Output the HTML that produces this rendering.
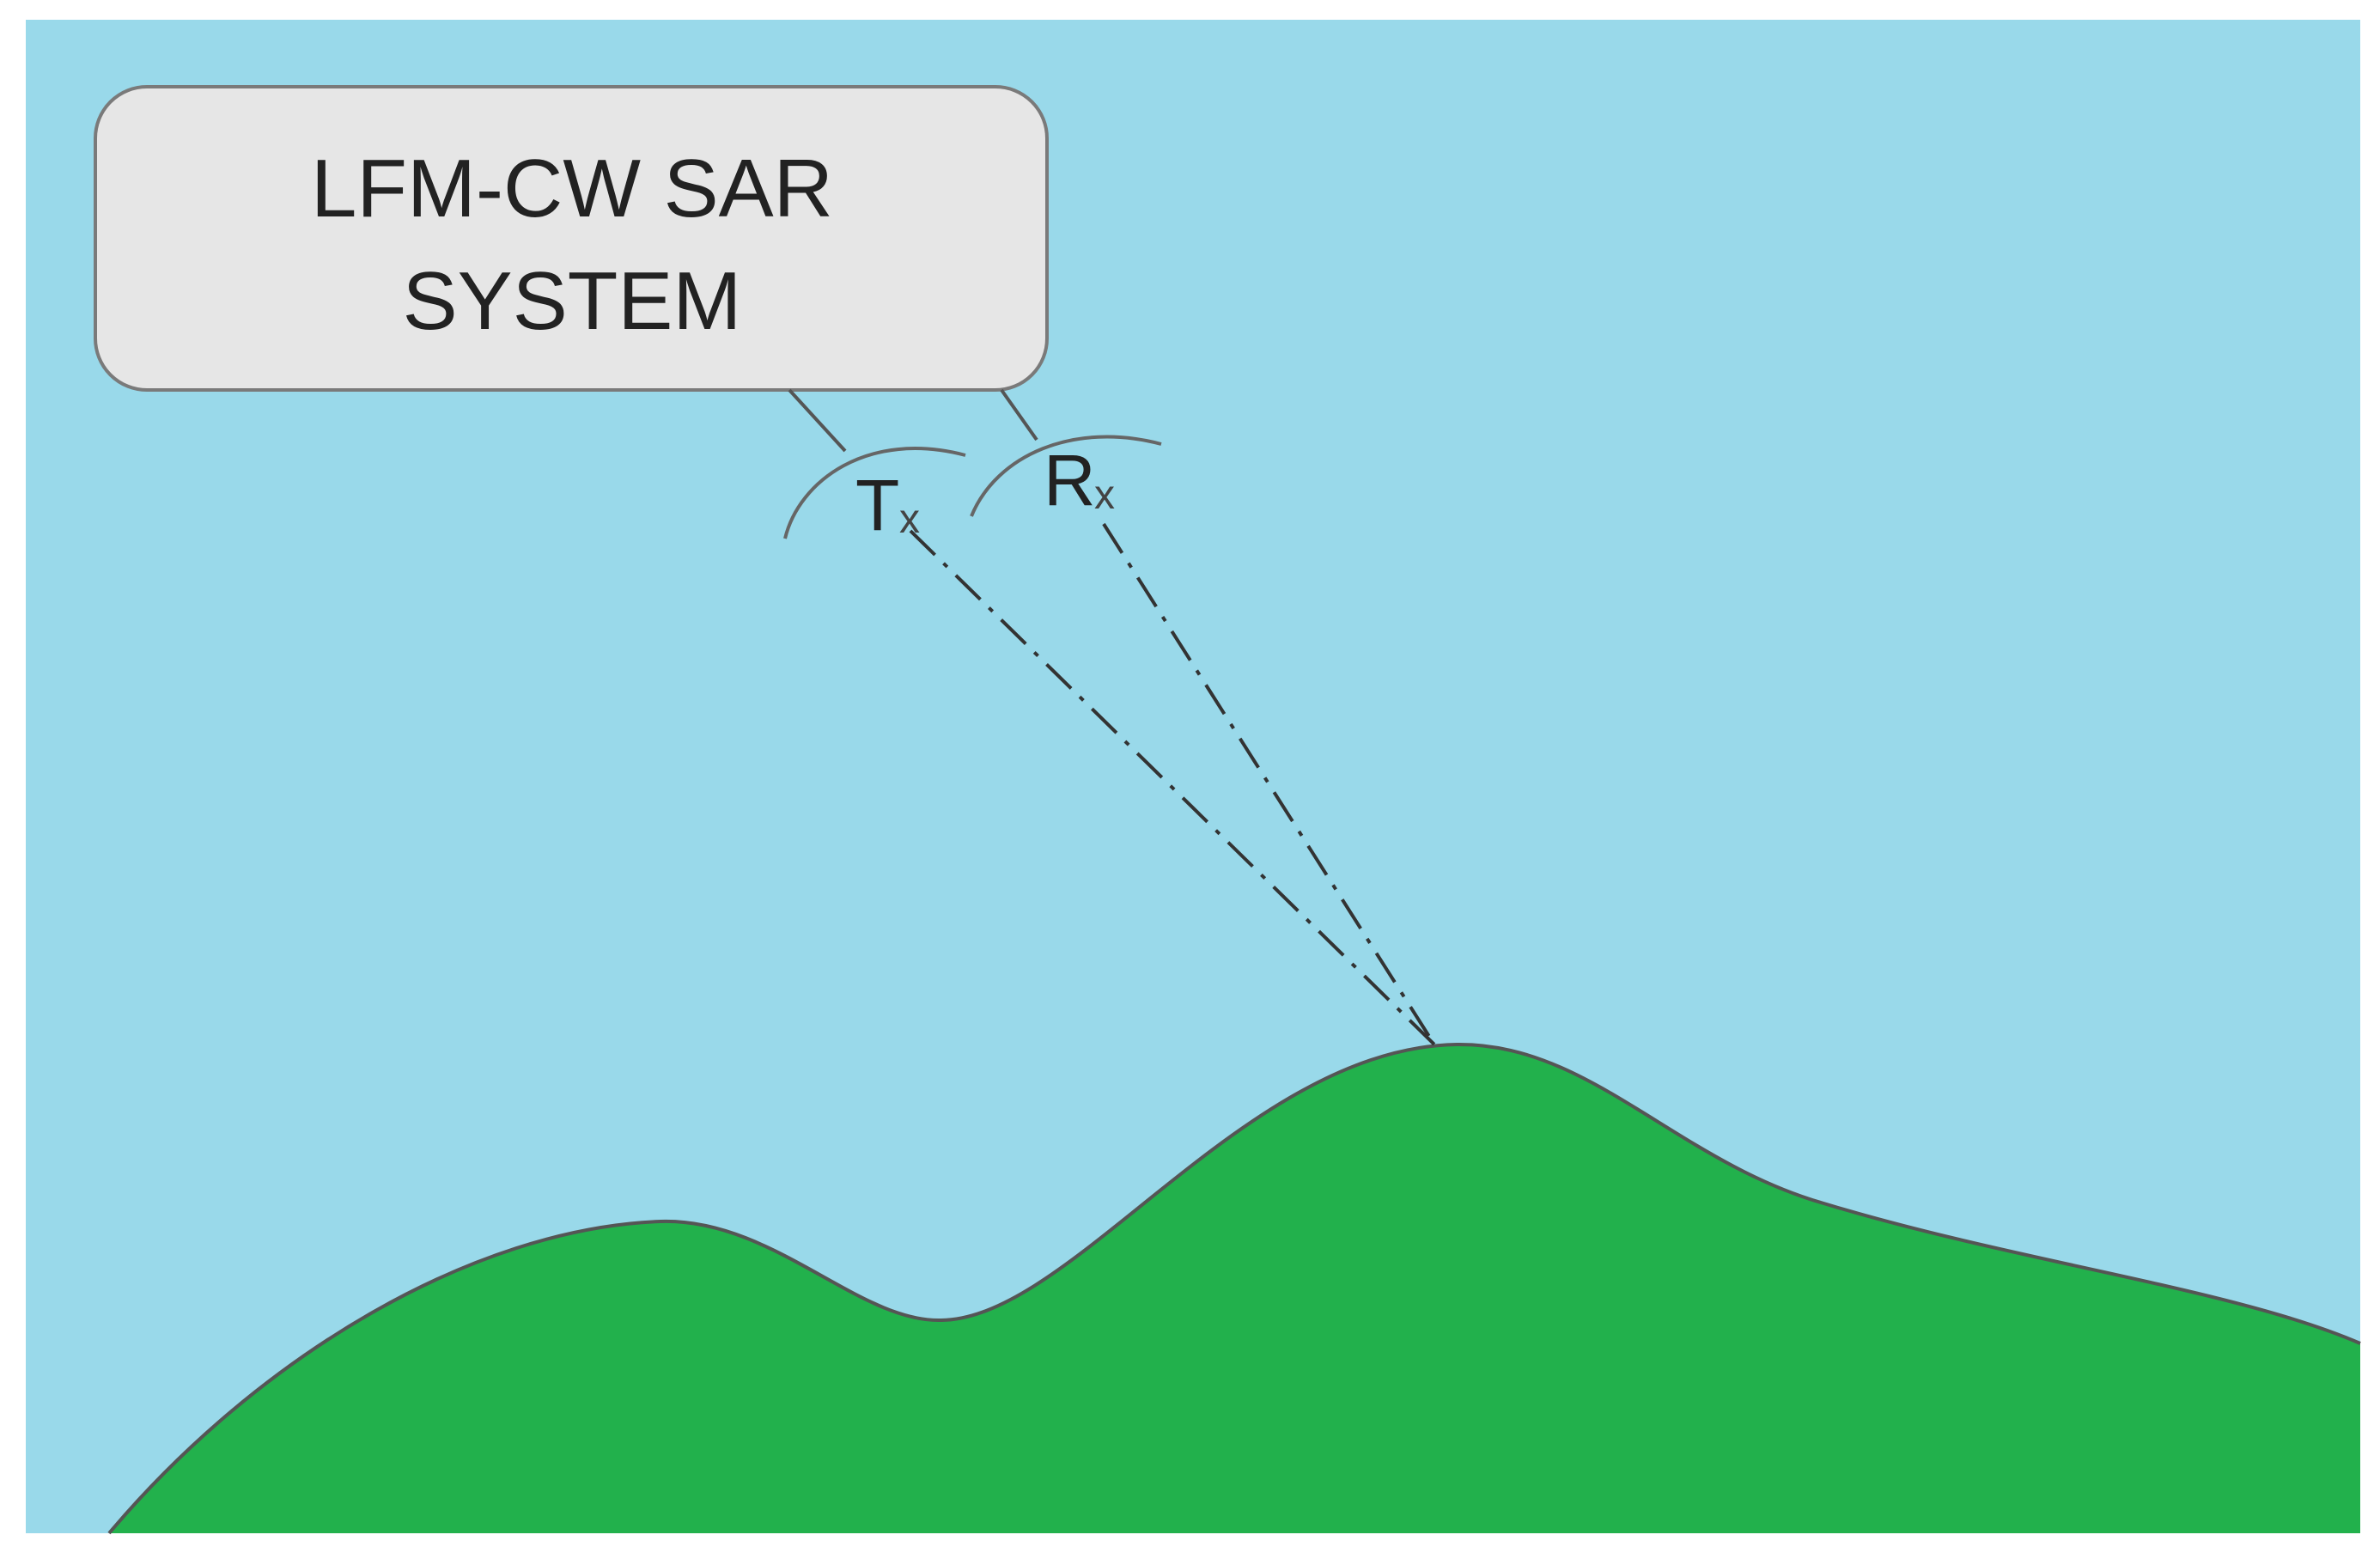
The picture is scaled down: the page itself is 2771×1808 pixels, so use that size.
<!DOCTYPE html>
<html><head><meta charset="utf-8"><style>
html,body{margin:0;padding:0;background:#fff;}
svg{display:block;}
</style></head><body>
<svg width="2771" height="1808" viewBox="0 0 2771 1808" xmlns="http://www.w3.org/2000/svg">
<rect x="0" y="0" width="2771" height="1808" fill="#fff"/>
<rect x="30" y="23" width="2718" height="1762" fill="#99d9ea"/>
<path d="M127,1785 C300,1580 550,1430 769,1422 C900,1418 1000,1540 1096,1537 C1250,1535 1450,1220 1696,1216 C1850,1214 1950,1350 2120,1400 C2350,1470 2600,1500 2748,1564 L2748,1785 Z" fill="#22b14c"/>
<path d="M127,1785 C300,1580 550,1430 769,1422 C900,1418 1000,1540 1096,1537 C1250,1535 1450,1220 1696,1216 C1850,1214 1950,1350 2120,1400 C2350,1470 2600,1500 2748,1564" fill="none" stroke="#555" stroke-width="4"/>
<rect x="111" y="101" width="1108" height="353" rx="60" ry="60" fill="#e6e6e6" stroke="#7a7a7a" stroke-width="4"/>
<text x="666" y="252" font-family="Liberation Sans, sans-serif" font-size="96" text-anchor="middle" fill="#222">LFM-CW SAR</text>
<text x="666" y="383" font-family="Liberation Sans, sans-serif" font-size="96" text-anchor="middle" fill="#222">SYSTEM</text>
<line x1="919" y1="454" x2="984" y2="525" stroke="#555" stroke-width="4"/>
<line x1="1166" y1="454" x2="1207" y2="512" stroke="#555" stroke-width="4"/>
<path d="M914,627 C930,560 1010,500 1124,530" fill="none" stroke="#666" stroke-width="4"/>
<path d="M1131,601 C1160,530 1250,490 1352,517" fill="none" stroke="#666" stroke-width="4"/>
<text x="996" y="617" font-family="Liberation Sans, sans-serif" font-size="84" fill="#222">T</text>
<text x="1047" y="620" font-family="Liberation Sans, sans-serif" font-size="48" fill="#444">x</text>
<text x="1215" y="588" font-family="Liberation Sans, sans-serif" font-size="84" fill="#222">R</text>
<text x="1274" y="592" font-family="Liberation Sans, sans-serif" font-size="48" fill="#444">x</text>
<line x1="1060" y1="618" x2="1670" y2="1216" stroke="#333" stroke-width="4" stroke-dasharray="40,14,6,14"/>
<line x1="1285" y1="610" x2="1670" y2="1216" stroke="#333" stroke-width="4" stroke-dasharray="40,14,6,14"/>
</svg>
</body></html>
